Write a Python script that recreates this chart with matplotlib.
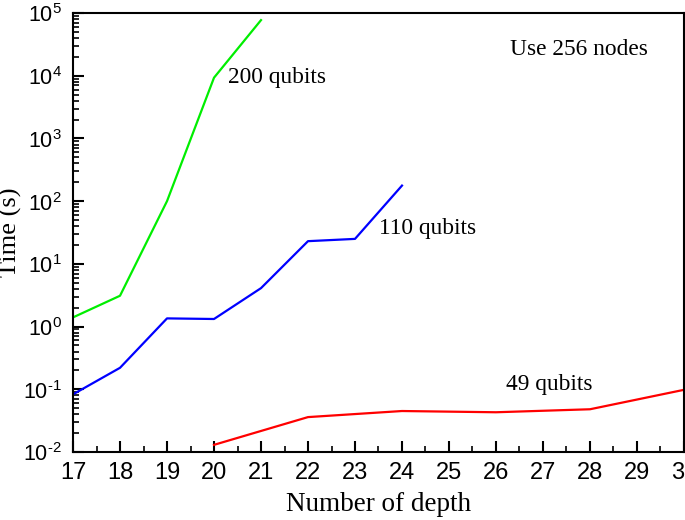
import matplotlib
matplotlib.use("Agg")
import matplotlib.pyplot as plt
from matplotlib.ticker import LogLocator, MultipleLocator, FuncFormatter
import numpy as np

plt.rcParams['mathtext.fontset'] = 'custom'
plt.rcParams['mathtext.rm'] = 'Liberation Sans'
plt.rcParams['mathtext.it'] = 'Liberation Sans:italic'

x200 = [17, 18, 19, 20, 21]
t200 = [1.4, 3.1, 100, 9300, 77000]
x110 = [17, 18, 19, 20, 21, 22, 23, 24]
t110 = [0.083, 0.22, 1.35, 1.32, 4.1, 23, 25, 177]
x49 = [20, 22, 24, 26, 28, 30]
t49 = [0.013, 0.036, 0.045, 0.043, 0.048, 0.098]

xticks = list(range(17, 31))


def yfmt(v, pos):
    e = int(round(np.log10(v)))
    if e < 0:
        return r'$10^{\text{-}%d}$' % (-e)
    return r'$10^{%d}$' % e


fig = plt.figure(figsize=(6.85, 5.2), dpi=100)
ax = fig.add_axes([0.1066, 0.1308, 0.8919, 0.8442])

ax.plot(x200, t200, color='#00ee00', lw=1.6)
ax.plot(x110, t110, color='#0000ff', lw=1.6)
ax.plot(x49, t49, color='#ff0000', lw=1.6)

ax.set_yscale('log')
ax.set_xlim(17, 30)
ax.set_ylim(1e-2, 1e5)
ax.set_xticks(xticks)
ax.xaxis.set_minor_locator(MultipleLocator(0.5))
ax.yaxis.set_major_locator(LogLocator(base=10, numticks=20))
ax.yaxis.set_minor_locator(LogLocator(base=10, subs=range(2, 10), numticks=20))
ax.yaxis.set_major_formatter(FuncFormatter(yfmt))

ax.tick_params(which='major', direction='in', length=8, width=1.5,
               top=False, right=False)
ax.tick_params(axis='x', which='major', labelsize=17, pad=7)
ax.tick_params(axis='y', which='major', labelsize=15.5, pad=8)
ax.tick_params(which='minor', direction='in', length=4, width=1.2,
               top=False, right=False)
for lab in ax.get_xticklabels():
    lab.set_fontfamily('Liberation Sans')
for s in ax.spines.values():
    s.set_linewidth(1.5)

ax.set_xlabel('Number of depth', fontfamily='Liberation Serif', fontsize=19.5, labelpad=6)
ax.set_ylabel('Time (s)', fontfamily='Liberation Serif', fontsize=19)
ax.yaxis.set_label_coords(-0.083, 0.5)

tkw = dict(fontfamily='Liberation Serif', fontsize=16.8, ha='left', va='center')
ax.text(20.3, 9500, '200 qubits', **tkw)
ax.text(23.51, 37, '110 qubits', **tkw)
ax.text(26.21, 0.117, '49 qubits', **tkw)
ax.text(26.3, 2.6e4, 'Use 256 nodes', **tkw)

fig.savefig('out.png', dpi=100)
